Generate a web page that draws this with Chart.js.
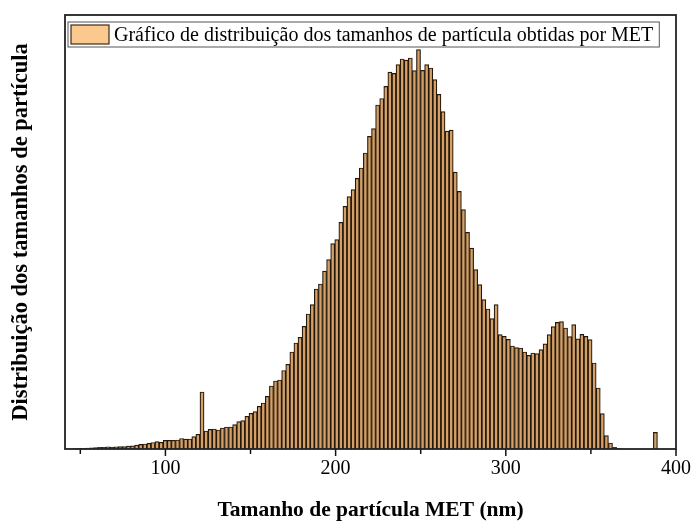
<!DOCTYPE html>
<html lang="pt">
<head>
    <meta charset="UTF-8">
    <title>Distribuição dos tamanhos de partícula (MET)</title>
    <script src="https://cdn.jsdelivr.net/npm/chart.js"></script>
    <style>
        html, body { margin: 0; padding: 0; background: #fff; }
    </style>
</head>
<body>
    <canvas id="psdChart" width="691" height="524"></canvas>
    <script>
        // histogram bins: centre of the first bin and bin width (nm)
        const firstBin = 47.1;
        const binWidth = 2.4;

        // relative frequency per bin
        const counts = [
            0.3, 0.5, 0.7, 0.9, 1.1, 1.4, 1.7, 1.6, 2.2, 1.9,
            2.1, 2.3, 2.4, 2.8, 3.1, 3.8, 4.6, 5.0, 5.6, 6.5,
            7.3, 6.7, 8.7, 8.7, 8.7, 9.0, 10.5, 9.8, 10.0, 12.3,
            14.7, 57, 18, 19.7, 20, 19, 21, 22, 22, 24.3,
            27.3, 28.3, 32.7, 35.7, 37.3, 42.7, 46, 52.7, 63, 68,
            69, 78.5, 84.7, 97, 106, 111.6, 122.6, 135, 144.3, 160,
            165, 177.8, 189.3, 205.3, 209.3, 226.6, 242.6, 252.3, 259.3, 270.6,
            281, 296, 312.6, 320.3, 344, 350.5, 362.6, 376.8, 375.6, 384.3,
            390, 388.8, 391, 378.3, 399.3, 378.6, 384.3, 381, 369.3, 354.6,
            337.3, 317.8, 318.8, 276.8, 257.6, 239.3, 216.6, 200.8, 179.3, 164.3,
            149.3, 140, 130.3, 144.3, 114.3, 112.6, 109.6, 103, 101.3, 101,
            97, 93.6, 96, 95.3, 99.3, 105.2, 114.3, 122.3, 126.6, 127.3,
            121, 112.3, 124.3, 110.2, 114.6, 112.6, 109.3, 86, 61, 35.3,
            13.3, 6, 1.6, 0.5, 0, 0, 0, 0, 0, 0,
            0, 0, 16.6
        ];

        const xTicks = [50, 100, 150, 200, 250, 300, 350, 400];
        const xLabels = ['', '100', '', '200', '', '300', '', '400'];

        const serif = "'Liberation Serif', 'Times New Roman', serif";

        const points = counts.map((c, i) => ({ x: firstBin + i * binWidth, y: c }));

        // box around the plot, outward tick marks and the legend inside the plot
        const framePlugin = {
            id: 'frame',
            afterDraw(chart) {
                const { ctx, chartArea: a } = chart;
                const xScale = chart.scales.x;
                const ds = chart.data.datasets[0];
                ctx.save();

                ctx.strokeStyle = '#111';
                ctx.lineWidth = 1.5;
                xTicks.forEach((v, i) => {
                    const px = xScale.getPixelForValue(v);
                    const len = xLabels[i] ? 7 : 5;
                    ctx.beginPath();
                    ctx.moveTo(px, a.bottom);
                    ctx.lineTo(px, a.bottom + len);
                    ctx.stroke();
                });

                ctx.strokeStyle = '#222';
                ctx.lineWidth = 1.8;
                ctx.strokeRect(a.left, a.top, a.right - a.left, a.bottom - a.top);

                ctx.font = '20px ' + serif;
                const textW = ctx.measureText(ds.label).width;
                const bx = a.left + 3, by = a.top + 7;
                const bw = 3 + 38 + 6 + textW + 5, bh = 25;
                ctx.fillStyle = '#fff';
                ctx.fillRect(bx, by, bw, bh);
                ctx.lineWidth = 1;
                ctx.strokeStyle = '#555';
                ctx.strokeRect(bx, by, bw, bh);

                ctx.fillStyle = '#fbc98e';
                ctx.fillRect(bx + 3, by + 3, 38, 19);
                ctx.strokeStyle = '#3a2a18';
                ctx.lineWidth = 1.2;
                ctx.strokeRect(bx + 3, by + 3, 38, 19);

                ctx.fillStyle = '#000';
                ctx.textBaseline = 'middle';
                ctx.fillText(ds.label, bx + 46, by + bh / 2 + 1);
                ctx.restore();
            }
        };

        new Chart(document.getElementById('psdChart'), {
            type: 'bar',
            data: {
                datasets: [{
                    label: 'Gráfico de distribuição dos tamanhos de partícula obtidas por MET',
                    data: points,
                    backgroundColor: '#d4a068',
                    borderColor: '#24180a',
                    borderWidth: 1.2,
                    barPercentage: 1,
                    categoryPercentage: 1
                }]
            },
            options: {
                responsive: false,
                animation: false,
                layout: { padding: { top: 15, right: 15, left: 0, bottom: 0 } },
                plugins: {
                    legend: { display: false },
                    tooltip: { enabled: false }
                },
                scales: {
                    x: {
                        type: 'linear',
                        min: 41,
                        max: 400,
                        offset: false,
                        afterBuildTicks: (s) => { s.ticks = xTicks.map(v => ({ value: v })); },
                        afterFit: (s) => { s.height = 75; },
                        ticks: {
                            callback: (v, i) => xLabels[i],
                            autoSkip: false,
                            maxRotation: 0,
                            padding: 0,
                            color: '#000',
                            font: { family: serif, size: 20 }
                        },
                        // invisible grid, only used to push the labels below the tick marks
                        grid: {
                            offset: false,
                            drawOnChartArea: false,
                            tickLength: 8,
                            color: 'rgba(0,0,0,0)'
                        },
                        border: { display: false },
                        title: {
                            display: true,
                            text: 'Tamanho de partícula MET (nm)',
                            color: '#000',
                            font: { family: serif, size: 21.5, weight: 'bold' },
                            padding: { top: 0, bottom: 1 }
                        }
                    },
                    y: {
                        min: 0,
                        max: 434,
                        afterFit: (s) => { s.width = 65; },
                        ticks: { display: false },
                        grid: { display: false },
                        border: { display: false },
                        title: {
                            display: true,
                            text: 'Distribuição dos tamanhos de partícula',
                            color: '#000',
                            font: { family: serif, size: 22.5, weight: 'bold' },
                            padding: { top: 8, bottom: 0 }
                        }
                    }
                }
            },
            plugins: [framePlugin]
        });
    </script>
</body>
</html>
